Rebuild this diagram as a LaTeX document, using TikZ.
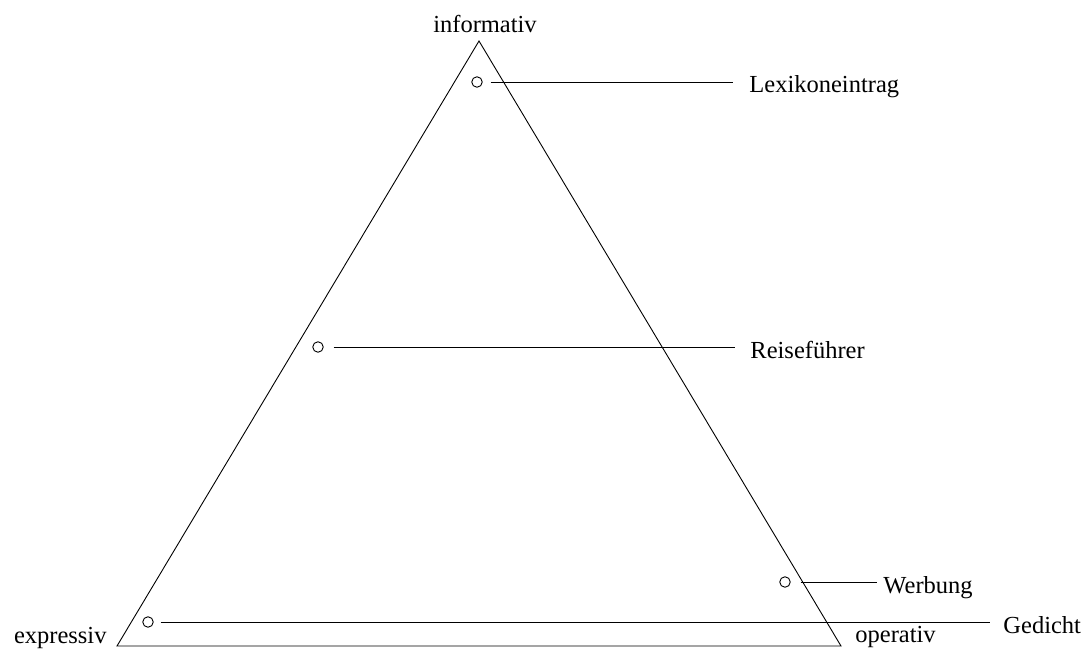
\documentclass[tikz,border=0pt]{standalone}
\usepackage{fontspec}
\setmainfont{Liberation Serif}
\tikzset{
  markdot/.style={draw, circle, inner sep=0pt, minimum size=10.5pt},
  lbl/.style={anchor=west, inner sep=0pt, text height=22pt, text depth=0pt,
    font=\fontsize{24.5}{28}\selectfont},
}

\begin{document}
\begin{tikzpicture}[x=1pt, y=-1pt, line width=0.9pt]
\useasboundingbox (0,0) rectangle (1088,650);
% Dreieck
\coordinate (top) at (479,41);
\coordinate (left) at (117,646);
\coordinate (right) at (841,646);
\draw (top) -- (right) -- (left) -- cycle;
\node[lbl, anchor=base] (inf) at (485,33) {informativ};
\node[lbl, anchor=base east] (expr) at (107,643) {expressiv};
\node[lbl, anchor=base west] (oper) at (855,642) {operativ};
% Textsorten
\node[markdot] (lex) at (477,82) {};
\node[lbl] (lexl) at (749,82) {Lexikoneintrag};
\draw ([xshift=8pt]lex.east) -- ([xshift=-16pt]lexl.west);
\node[markdot] (reise) at (318,347) {};
\node[lbl] (reisel) at (750,347) {Reiseführer};
\draw ([xshift=10pt]reise.east) -- ([xshift=-15pt]reisel.west);
\node[markdot] (werb) at (785,582) {};
\node[lbl] (werbl) at (883,582) {Werbung};
\draw ([xshift=10pt]werb.east) -- ([xshift=-6pt]werbl.west);
\node[markdot] (ged) at (148,622) {};
\node[lbl] (gedl) at (1003,622) {Gedicht};
\draw ([xshift=7pt]ged.east) -- ([xshift=-13pt]gedl.west);
\end{tikzpicture}
\end{document}
